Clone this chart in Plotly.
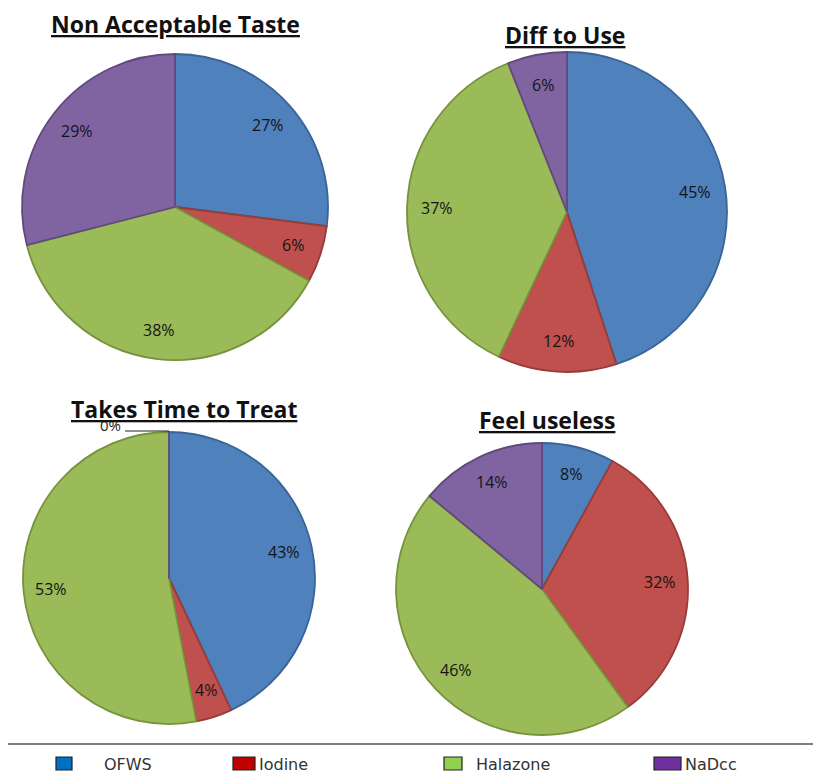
import math
import plotly.graph_objects as go

# the page body adds an 8 px margin, so the figure is shifted by that amount
OX, OY = 8, 8
W, H = 821, 776

categories = ["OFWS", "Iodine", "Halazone", "NaDcc"]
titles = ["Non Acceptable Taste", "Diff to Use", "Takes Time to Treat", "Feel useless"]
taste_values = [27, 6, 38, 29]
diff_values = [45, 12, 37, 6]
time_values = [43, 4, 53, 0]
useless_values = [8, 32, 46, 14]
all_values = [taste_values, diff_values, time_values, useless_values]

pie_colors = ["#4F81BD", "#C0504D", "#9BBB59", "#8064A2"]
edge_colors = ["#3A6496", "#963C3A", "#76923C", "#604A7B"]
legend_colors = ["#0070C0", "#C00000", "#92D050", "#7030A0"]

# pie placement in page pixels: (center x, center y, radius)
pie_geom = [(175, 207, 153), (567, 212, 160), (169, 578, 146), (542, 589, 146)]
title_pos = [(175, 24), (565, 35), (184, 409), (547, 420)]


def fx(x):
    return (x - OX) / W


def fy(y):
    return 1 - (y - OY) / H


fig = go.Figure()
annotations = []
shapes = []

for vals, (cx, cy, r), title, (tx, ty) in zip(all_values, pie_geom, titles, title_pos):
    fig.add_trace(go.Pie(
        values=vals, labels=categories, sort=False, direction="clockwise", rotation=0,
        domain=dict(x=[fx(cx - r), fx(cx + r)], y=[fy(cy + r), fy(cy - r)]),
        marker=dict(colors=pie_colors, line=dict(color=edge_colors, width=1.8)),
        textinfo="none", hoverinfo="label+percent", showlegend=False,
    ))
    total = sum(vals)
    cum = 0
    for v in vals:
        mid = (cum + v / 2) / total * 2 * math.pi
        cum += v
        if v == 0:
            # outside label with leader line to the slice
            px, py = cx + r * math.sin(mid), cy - r * math.cos(mid)
            shapes.append(dict(type="line", xref="paper", yref="paper",
                               x0=fx(px - 44), x1=fx(px), y0=fy(py - 1), y1=fy(py - 1),
                               line=dict(color="#222222", width=1)))
            annotations.append(dict(x=fx(px - 46), y=fy(py - 7), xref="paper", yref="paper",
                                    text=f"{v}%", showarrow=False, xanchor="right", yanchor="middle",
                                    font=dict(family="Open Sans", size=15, color="#222222")))
            continue
        f = 0.81
        lx, ly = cx + f * r * math.sin(mid), cy - f * r * math.cos(mid)
        annotations.append(dict(x=fx(lx), y=fy(ly), xref="paper", yref="paper",
                                text=f"{v}%", showarrow=False, xanchor="center", yanchor="middle",
                                font=dict(family="Open Sans", size=16, color="#141414")))
    annotations.append(dict(x=fx(tx), y=fy(ty), xref="paper", yref="paper",
                            text=f"<b><u>{title}</u></b>", showarrow=False,
                            xanchor="center", yanchor="middle",
                            font=dict(family="Open Sans", size=23, color="#111111")))

# legend box
shapes.append(dict(type="rect", xref="paper", yref="paper", x0=fx(6), x1=fx(840),
                   y0=fy(800), y1=fy(744), line=dict(color="#555555", width=1.5)))
legend_boxes = [(56, 72), (233, 255), (444, 462), (654, 681)]
legend_text_x = [102, 257, 474, 683]
for name, col, (x0, x1), lt in zip(categories, legend_colors, legend_boxes, legend_text_x):
    shapes.append(dict(type="rect", xref="paper", yref="paper", x0=fx(x0), x1=fx(x1),
                       y0=fy(770), y1=fy(757), fillcolor=col,
                       line=dict(color="#222222", width=1.2)))
    annotations.append(dict(x=fx(lt), y=fy(764), xref="paper", yref="paper",
                            text=name, showarrow=False, xanchor="left", yanchor="middle",
                            font=dict(family="DejaVu Sans", size=16, color="#333333")))

fig.update_layout(
    width=W, height=H, margin=dict(l=0, r=0, t=0, b=0),
    paper_bgcolor="white", plot_bgcolor="white",
    annotations=annotations, shapes=shapes, showlegend=False,
)

fig.write_html("out.html")
